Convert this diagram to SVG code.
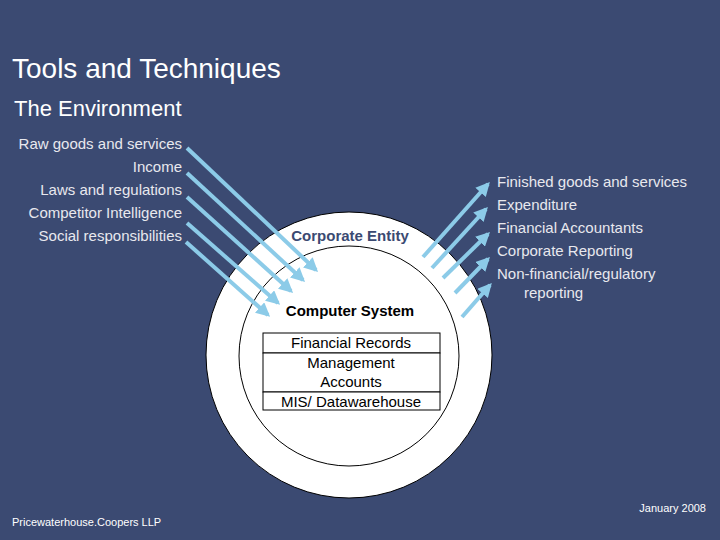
<svg xmlns="http://www.w3.org/2000/svg" width="720" height="540" viewBox="0 0 720 540">
<style>
text{font-family:"Liberation Sans",Arial,sans-serif}
.env{fill:#e8e8ee;font-size:15px}
.ar{stroke:#8ccbe8;stroke-width:4;fill:none;marker-end:url(#ah)}
.box{fill:#fff;stroke:#000;stroke-width:1}
.bt{font-size:15px;fill:#000;text-anchor:middle}
</style>
<defs>
<marker id="ah" viewBox="0 0 10 10" refX="8" refY="5" markerWidth="3.5" markerHeight="3.5" orient="auto" markerUnits="strokeWidth">
<path d="M0,0 L10,5 L0,10 z" fill="#8ccbe8"/>
</marker>
</defs>
<rect width="720" height="540" fill="#3b4a72"/>
<text x="12" y="78" font-size="28" fill="#fff">Tools and Techniques</text>
<text x="14" y="116" font-size="22" fill="#fff">The Environment</text>
<g id="inputs" class="env" text-anchor="end">
<text x="182" y="149">Raw goods and services</text>
<text x="182" y="172">Income</text>
<text x="182" y="195">Laws and regulations</text>
<text x="182" y="218">Competitor Intelligence</text>
<text x="182" y="241">Social responsibilities</text>
</g>
<g id="outputs" class="env">
<text x="497" y="187">Finished goods and services</text>
<text x="497" y="210">Expenditure</text>
<text x="497" y="233">Financial Accountants</text>
<text x="497" y="256">Corporate Reporting</text>
<text x="497" y="279">Non-financial/regulatory</text>
<text x="524" y="298">reporting</text>
</g>
<g id="corporate-entity">
<circle cx="349" cy="355" r="143" fill="#fff" stroke="#000" stroke-width="1"/>
<text x="350" y="241" font-size="15" font-weight="bold" fill="#3b4a72" text-anchor="middle">Corporate Entity</text>
</g>
<g id="computer-system">
<circle cx="349" cy="356" r="110" fill="#fff" stroke="#000" stroke-width="1"/>
<text x="350" y="316" font-size="15" font-weight="bold" fill="#000" text-anchor="middle">Computer System</text>
</g>
<g id="records">
<rect class="box" x="263" y="333" width="177" height="20"/>
<text class="bt" x="351" y="348">Financial Records</text>
</g>
<g id="management">
<rect class="box" x="263" y="353" width="177" height="39"/>
<text class="bt" x="351" y="368">Management</text>
<text class="bt" x="351" y="387">Accounts</text>
</g>
<g id="mis">
<rect class="box" x="263" y="392" width="177" height="18"/>
<text class="bt" x="351" y="407">MIS/ Datawarehouse</text>
</g>
<g id="connectors">
<line class="ar" x1="187" y1="148" x2="316" y2="270"/>
<line class="ar" x1="187" y1="173" x2="303" y2="280"/>
<line class="ar" x1="187" y1="197" x2="291" y2="291"/>
<line class="ar" x1="187" y1="223" x2="278" y2="303"/>
<line class="ar" x1="186" y1="242" x2="268" y2="315"/>
<line class="ar" x1="423" y1="257" x2="488" y2="184"/>
<line class="ar" x1="432" y1="268" x2="486" y2="209"/>
<line class="ar" x1="443" y1="278" x2="488" y2="234"/>
<line class="ar" x1="455" y1="293" x2="488" y2="259"/>
<line class="ar" x1="462" y1="317" x2="490" y2="285"/>
</g>
<text x="12" y="526" font-size="11" fill="#fff">Pricewaterhouse.Coopers LLP</text>
<text x="706" y="512" font-size="11" fill="#fff" text-anchor="end">January 2008</text>
</svg>
